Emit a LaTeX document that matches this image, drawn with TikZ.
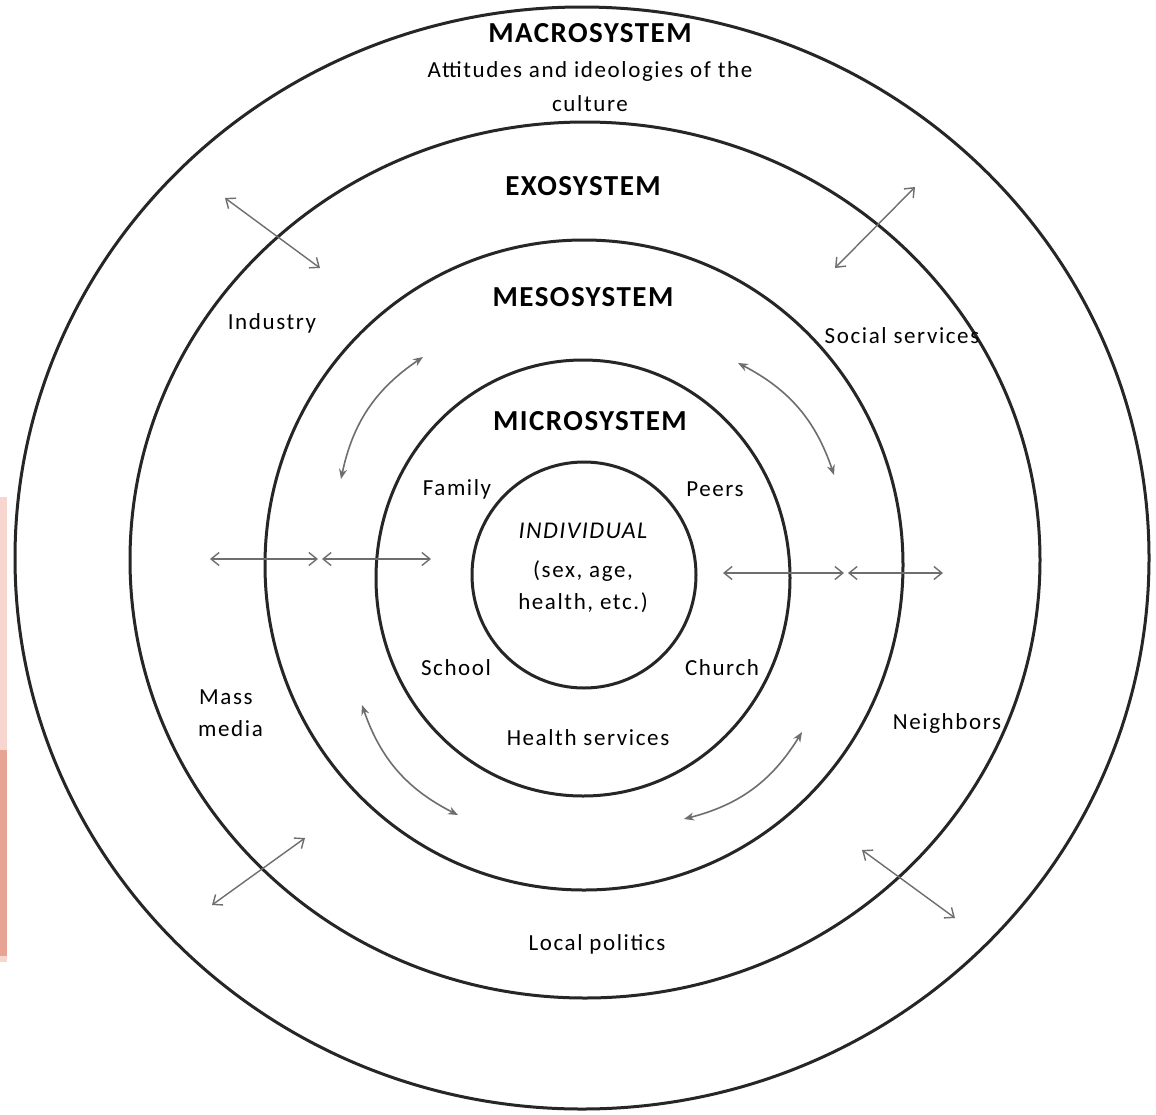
\documentclass[tikz,border=0pt]{standalone}
\usepackage{fontspec}
\setmainfont{Carlito}
\usetikzlibrary{arrows.meta}
\definecolor{pinkA}{RGB}{246,214,207}
\definecolor{pinkB}{RGB}{231,163,148}
\definecolor{arrgray}{RGB}{110,110,110}
\tikzset{
  ring/.style={draw=black!85, line width=3pt},
  title/.style={font=\fontsize{29}{32}\selectfont\bfseries\addfontfeature{LetterSpace=5}, inner sep=0pt},
  lbl/.style={font=\fontsize{23}{30}\selectfont\addfontfeature{LetterSpace=7}, inner sep=0pt, text=black},
  straw/.style={draw=arrgray, line width=1.4pt, {Straight Barb[length=8pt,width=13pt]}-{Straight Barb[length=8pt,width=13pt]}},
  curvw/.style={draw=arrgray, line width=1.6pt, {Stealth[length=10pt,width=8pt]}-{Stealth[length=10pt,width=8pt]}}
}
\begin{document}
\begin{tikzpicture}[x=1pt,y=-1pt]
\useasboundingbox (0,0) rectangle (1156,1114);
\fill[white] (0,0) rectangle (1156,1114);
% pink band
\fill[pinkA] (0,497) rectangle (7,750);
\fill[pinkB] (0,750) rectangle (7,956);
\fill[pinkA] (0,956) rectangle (7,962);
% rings
\draw[ring] (582,558) ellipse [x radius=567, y radius=551];
\draw[ring] (585,560) ellipse [x radius=455, y radius=438];
\draw[ring] (584,565) ellipse [x radius=319, y radius=325];
\draw[ring] (583,578) ellipse [x radius=207, y radius=218];
\draw[ring] (584,575) ellipse [x radius=112, y radius=113];
% titles
\node[title] (macro) at (590,33) {MACROSYSTEM};
\node[lbl] (att) at (590,71) {Attitudes and ideologies of the};
\node[lbl] (cult) at (590,104) {culture};
\node[title] (exo) at (583,186) {EXOSYSTEM};
\node[title] (meso) at (583,297) {MESOSYSTEM};
\node[title] (micro) at (590,421) {MICROSYSTEM};
% labels
\node[lbl] (ind) at (272,323) {Industry};
\node[lbl] (soc) at (902,336) {Social services};
\node[lbl] (fam) at (457,489) {Family};
\node[lbl] (peer) at (715,489) {Peers};
\node[lbl,font=\fontsize{24}{30}\selectfont\itshape\addfontfeature{LetterSpace=6}] (indiv) at (583,531) {INDIVIDUAL};
\node[lbl] (sex) at (583,571) {(sex, age,};
\node[lbl] (hlth) at (583,603) {health, etc.)};
\node[lbl] (sch) at (456,668) {School};
\node[lbl] (chu) at (722,668) {Church};
\node[lbl] (hs) at (588,738) {Health services};
\node[lbl,anchor=west] (mass) at (199,697) {Mass};
\node[lbl,anchor=west] (media) at (198,729) {media};
\node[lbl] (nei) at (947,723) {Neighbors};
\node[lbl] (lp) at (597,944) {Local politics};
% arrow end points
\coordinate (tl1) at (225,198); \coordinate (tl2) at (320,268);
\coordinate (tr1) at (915,187); \coordinate (tr2) at (835,268);
\coordinate (bl1) at (305,838); \coordinate (bl2) at (212,905);
\coordinate (br1) at (862,850); \coordinate (br2) at (955,918);
\coordinate (hl1) at (210,559); \coordinate (hl2) at (318,559);
\coordinate (hl3) at (322,559); \coordinate (hl4) at (431,559);
\coordinate (hr1) at (723,573); \coordinate (hr2) at (844,573);
\coordinate (hr3) at (848,573); \coordinate (hr4) at (943,573);
\coordinate (cul1) at (341,479); \coordinate (cul2) at (423,357);
\coordinate (cur1) at (738,363); \coordinate (cur2) at (834,475);
\coordinate (cll1) at (362,705); \coordinate (cll2) at (458,815);
\coordinate (clr1) at (802,732); \coordinate (clr2) at (684,819);
% straight arrows
\draw[straw] (tl1) -- (tl2);
\draw[straw] (tr1) -- (tr2);
\draw[straw] (bl1) -- (bl2);
\draw[straw] (br1) -- (br2);
\draw[straw] (hl1) -- (hl2);
\draw[straw] (hl3) -- (hl4);
\draw[straw] (hr1) -- (hr2);
\draw[straw] (hr3) -- (hr4);
% curved arrows
\draw[curvw] (cul1) to[bend left=22] (cul2);
\draw[curvw] (cur1) to[bend left=22] (cur2);
\draw[curvw] (cll1) to[bend right=22] (cll2);
\draw[curvw] (clr1) to[bend left=22] (clr2);
\end{tikzpicture}
\end{document}
